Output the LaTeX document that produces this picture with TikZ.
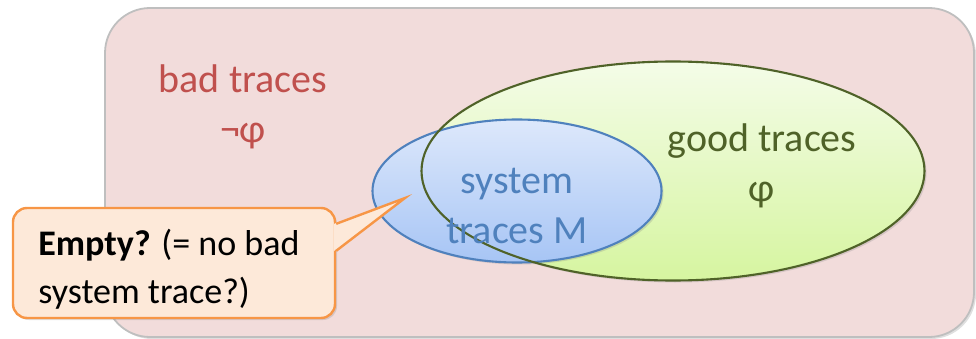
\documentclass[tikz,border=0pt]{standalone}
\usepackage{fontspec}
\setmainfont{Carlito}
\usepackage{tikz}
\usetikzlibrary{positioning,shapes.geometric,shadows,calc}
\definecolor{roseback}{HTML}{F2DCDB}
\definecolor{framegray}{HTML}{BFBFBF}
\definecolor{badred}{HTML}{C0504D}
\definecolor{goodedge}{HTML}{4F6228}
\definecolor{greentop}{HTML}{F4FCE8}
\definecolor{greenbot}{HTML}{D6F5A0}
\definecolor{sysblue}{HTML}{4F81BD}
\definecolor{bluetop}{HTML}{DDE8FB}
\definecolor{bluebot}{HTML}{A7C5F5}
\definecolor{peach}{HTML}{FDE9D9}
\definecolor{noteorange}{HTML}{F79646}

\begin{document}
\begin{tikzpicture}[x=1pt,y=-1pt,
tset/.style={ellipse,inner sep=0pt,line width=2.1pt},
lbl/.style={align=center,font=\fontsize{40}{50}\selectfont},
soft/.style={drop shadow={opacity=0.25,shadow xshift=2pt,shadow yshift=-2pt}},
note/.style={draw=noteorange,line width=2.4pt,fill=peach,rounded corners=14pt,inner sep=0pt,align=left,font=\fontsize{36}{48}\selectfont}
]
\useasboundingbox (0,0) rectangle (976,339);
% universe of all traces
\draw[draw=framegray,line width=1.8pt,fill=roseback,rounded corners=45pt,soft] (105,8) rectangle (974,337);
\node[lbl,text=badred] (badlbl) at (243,107) {bad traces\\¬φ};
% the two sets
\node[tset,minimum width=503pt,minimum height=219pt,top color=greentop,bottom color=greenbot,soft] (good) at (673,171) {};
\node[tset,draw=sysblue,minimum width=289pt,minimum height=143pt,top color=bluetop,bottom color=bluebot,soft] (sys) at (517,191) {};
\draw[goodedge,line width=2.1pt] (good.center) ellipse [x radius=251.5,y radius=109.5];
\node[lbl,text=goodedge] (goodlbl) at (762,166) {good traces\\φ};
\node[lbl,text=sysblue] (syslbl) at (517,206) {system\\traces M};
% callout
\node[note,minimum width=322pt,minimum height=110pt,soft] (callout) at (174,263) {\rule{0pt}{38pt}\textbf{Empty?} (= no bad\hspace*{10pt}\\system trace?)};
\coordinate (tip) at (405,198);
\fill[peach] ($(callout.north east)+(-2,17)$) -- (tip) -- ($(callout.north east)+(-2,44)$) -- cycle;
\draw[noteorange,line width=2.4pt] ($(callout.north east)+(0,17)$) -- (tip) -- ($(callout.north east)+(0,44)$);
\end{tikzpicture}
\end{document}
